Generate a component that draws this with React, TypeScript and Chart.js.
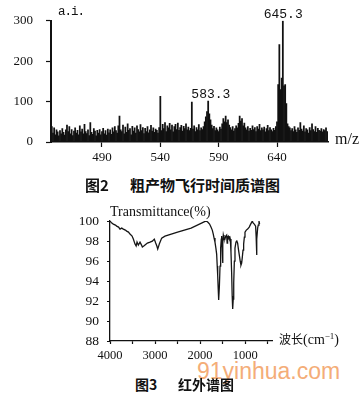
import React, { useEffect, useRef } from "react";
import { Chart, registerables } from "chart.js";
Chart.register(...registerables);

// ---------- Figure 2: TOF mass spectrum ----------
const massStart = 447; // first m/z of the intensity list (step 1)
const massIntensity = [
  38, 22, 35, 18, 30, 25, 15, 28, 20, 33,
  24, 17, 30, 42, 26, 38, 20, 31, 16, 27,
  35, 22, 29, 18, 40, 25, 32, 20, 44, 26,
  21, 30, 16, 48, 24, 19, 33, 27, 15, 29,
  22, 31, 18, 26, 34, 20, 28, 17, 32, 23,
  30, 19, 35, 25, 38, 28, 22, 40, 64, 30,
  26, 42, 20, 37, 24, 45, 29, 33, 18, 39,
  27, 35, 22, 40, 31, 25, 43, 28, 36, 21,
  34, 26, 38, 23, 30, 41, 27, 35, 24, 32,
  29, 22, 36, 113, 28, 44, 33, 48, 26, 40,
  35, 46, 30, 42, 25, 38, 44, 31, 47, 29,
  36, 41, 27, 39, 33, 45, 30, 37, 28, 34,
  99, 32, 40, 26, 36, 30, 43, 28, 35, 31,
  38, 50, 62, 75, 101, 70, 55, 42, 33, 39,
  28, 35, 30, 26, 37, 32, 45, 58, 50, 64,
  48, 55, 42, 36, 30, 38, 27, 33, 40, 35,
  46, 64, 52, 58, 40, 47, 35, 30, 38, 27,
  34, 29, 40, 31, 36, 26, 38, 32, 44, 28,
  35, 30, 37, 25, 33, 41, 28, 36, 30, 26,
  34, 29, 38, 50, 142, 241, 130, 158, 300, 139,
  142, 95, 45, 38, 35, 28, 33, 26, 38, 30,
  24, 35, 29, 48, 32, 27, 40, 25, 33, 30,
  22, 36, 28, 45, 31, 26, 38, 24, 34, 29,
  27, 33, 25, 31, 28, 35, 26,
];
const massXTicks = [490, 540, 590, 640];
const massYTicks = [0, 100, 200, 300];
const peakLabels = [
  { mz: 583.3, value: 101, text: "583.3" },
  { mz: 645.3, value: 300, text: "645.3" },
];

// ---------- Figure 3: IR spectrum ----------
const irWavenumber = [
  4000, 3960, 3926, 3880, 3852, 3810, 3778, 3740, 3704, 3660, 3630, 3590, 3556, 3510,
  3482, 3445, 3420, 3400, 3371, 3334, 3300, 3282, 3250, 3223, 3170, 3112, 3060, 3017,
  2986, 2960, 2941, 2920, 2906, 2853, 2780, 2500, 2200, 1900, 1860, 1832, 1790, 1759,
  1730, 1708, 1690, 1670, 1650, 1633, 1620, 1610, 1598, 1588, 1572, 1558, 1544, 1530,
  1522, 1512, 1502, 1492, 1485, 1470, 1450, 1430, 1411, 1400, 1390, 1375, 1360, 1340,
  1330, 1315, 1300, 1288, 1277, 1265, 1254, 1240, 1226, 1204, 1185, 1167, 1150, 1130,
  1110, 1093, 1078, 1063, 1048, 1034, 1018, 1004, 975, 945, 910, 878, 842, 820, 797,
  768, 757, 748, 738, 723, 710, 693, 680,
];
const irTransmittance = [
  100, 99.8, 99.7, 99.6, 99.5, 99.4, 99.2, 99.3, 99.2, 99.1, 99.0, 98.9, 98.7, 98.5,
  98.2, 97.7, 97.5, 97.9, 97.6, 97.9, 97.6, 97.4, 97.5, 97.6, 97.8, 97.9, 98.0, 98.2,
  97.8, 97.5, 97.2, 97.5, 97.7, 98.3, 98.5, 98.9, 99.3, 99.95, 100, 99.9, 99.7, 99.4,
  99.1, 98.7, 98.3, 97.9, 97.3, 96.7, 95.5, 94.6, 93.2, 92.1, 93.5, 95.5, 97.3, 98.2,
  98.5, 97.4, 95.8, 97.8, 98.6, 98.3, 98.2, 98.5, 98.6, 97.8, 98.4, 98.5, 98.3, 98.4,
  98.2, 96.9, 94.8, 92.5, 91.2, 92.2, 93.8, 96.0, 97.3, 97.9, 98.0, 97.8, 97.2, 96.6,
  96.0, 95.6, 95.8, 96.4, 97.1, 97.7, 98.4, 98.9, 99.1, 99.2, 99.4, 99.7, 100, 99.8, 99.7,
  99.5, 98.5, 96.6, 98.2, 99.3, 99.6, 100, 99.7,
];
const irXTicks = [4000, 3500, 3000, 2500, 2000, 1500, 1000, 500];
const irXLabels = [4000, 3000, 2000, 1000];
const irYTicks = [88, 90, 92, 94, 96, 98, 100];

const serif = '"Liberation Serif", "DejaVu Serif", serif';
const mono = '"Liberation Mono", "DejaVu Sans Mono", monospace';
const cjk = '"Noto Sans CJK SC", sans-serif';

const peakPlugin = {
  id: "peakLabels",
  afterDatasetsDraw(chart: any) {
    const { ctx, scales } = chart;
    ctx.save();
    ctx.font = `13px ${mono}`;
    ctx.fillStyle = "#111";
    ctx.textAlign = "center";
    ctx.textBaseline = "alphabetic";
    for (const p of peakLabels) {
      const x = scales.x.getPixelForValue(p.mz);
      const y = scales.y.getPixelForValue(p.value);
      ctx.fillText(p.text, x, y - 3);
    }
    ctx.restore();
  },
};

export default function App() {
  const massRef = useRef<HTMLCanvasElement>(null);
  const irRef = useRef<HTMLCanvasElement>(null);

  useEffect(() => {
    const axisGrid = (len: number) => ({
      display: true,
      offset: false,
      drawOnChartArea: false,
      drawTicks: true,
      tickLength: len,
      tickColor: "#111",
      tickWidth: 1.2,
    });

    const massChart = new Chart(massRef.current!, {
      type: "bar",
      data: {
        datasets: [
          {
            data: massIntensity.map((y, i) => ({ x: massStart + i, y })),
            backgroundColor: "#111",
            borderWidth: 0,
            barThickness: 1.1,
            grouped: false,
          } as any,
        ],
      },
      options: {
        animation: false,
        responsive: false,
        maintainAspectRatio: false,
        events: [],
        layout: { padding: { left: 0, top: 15, right: 34, bottom: 3 } },
        plugins: { legend: { display: false }, tooltip: { enabled: false } },
        scales: {
          x: {
            type: "linear",
            min: 446.3,
            max: 683.7,
            offset: false,
            grid: axisGrid(5),
            border: { display: true, color: "#111", width: 1.5 },
            ticks: {
              color: "#111",
              font: { family: serif, size: 13 },
              padding: 3,
              autoSkip: false,
              maxRotation: 0,
              callback: (v: any) => String(v),
            },
            afterBuildTicks: (s: any) => {
              s.ticks = massXTicks.map((value) => ({ value }));
            },
            afterFit: (s: any) => {
              s.height = 25;
            },
          },
          y: {
            min: 0,
            max: 300,
            grid: axisGrid(5),
            border: { display: true, color: "#111", width: 2 },
            ticks: {
              color: "#111",
              font: { family: serif, size: 13 },
              padding: 13,
              callback: (v: any) => String(v),
            },
            afterBuildTicks: (s: any) => {
              s.ticks = massYTicks.map((value) => ({ value }));
            },
            afterFit: (s: any) => {
              s.width = 51;
            },
          },
        },
      } as any,
      plugins: [peakPlugin],
    });

    const irChart = new Chart(irRef.current!, {
      type: "line",
      data: {
        datasets: [
          {
            data: irWavenumber.map((x, i) => ({ x, y: irTransmittance[i] })),
            borderColor: "#151515",
            borderWidth: 1.3,
            pointRadius: 0,
            tension: 0,
            fill: false,
          },
        ],
      },
      options: {
        animation: false,
        responsive: false,
        maintainAspectRatio: false,
        events: [],
        layout: { padding: { left: 0, top: 15.7, right: 89.8, bottom: 4 } },
        plugins: { legend: { display: false }, tooltip: { enabled: false } },
        scales: {
          x: {
            type: "linear",
            min: 400,
            max: 4000,
            reverse: true,
            grid: axisGrid(3),
            border: { display: true, color: "#111", width: 1.3 },
            ticks: {
              color: "#111",
              font: { family: serif, size: 12.5 },
              padding: 4,
              autoSkip: false,
              maxRotation: 0,
              callback: (v: any) => (irXLabels.includes(v) ? String(v) : ""),
            },
            afterBuildTicks: (s: any) => {
              s.ticks = irXTicks.map((value) => ({ value }));
            },
            afterFit: (s: any) => {
              s.height = 25;
            },
          },
          y: {
            min: 88,
            max: 100,
            grid: axisGrid(3),
            border: { display: true, color: "#111", width: 1.3 },
            ticks: {
              color: "#111",
              font: { family: serif, size: 13.5 },
              padding: 8,
              callback: (v: any) => String(v),
            },
            afterBuildTicks: (s: any) => {
              s.ticks = irYTicks.map((value) => ({ value }));
            },
            afterFit: (s: any) => {
              s.width = 110;
            },
          },
        },
      } as any,
    });

    return () => {
      massChart.destroy();
      irChart.destroy();
    };
  }, []);

  const abs = (left: number, top: number, extra: React.CSSProperties = {}): React.CSSProperties => ({
    position: "absolute",
    left,
    top,
    whiteSpace: "nowrap",
    color: "#111",
    ...extra,
  });

  return (
    <div style={{ position: "absolute", left: 0, top: 0, width: 362, height: 397, background: "#fff", overflow: "hidden" }}>
      <canvas ref={massRef} width={362} height={170} style={{ position: "absolute", left: 0, top: 0, width: 362, height: 170 }} />
      <div style={abs(58, 6, { font: `12.5px ${mono}`, lineHeight: "12px", letterSpacing: "-1px" })}>a.i.</div>
      <div style={abs(335, 131, { font: `16px ${serif}`, lineHeight: "16px" })}>m/z</div>

      <div style={abs(85, 176.7, { font: `700 15px ${cjk}`, lineHeight: "15px" })}>图2</div>
      <div style={abs(130, 176.7, { font: `700 15px ${cjk}`, lineHeight: "15px" })}>粗产物飞行时间质谱图</div>

      <div style={abs(197, 360, { font: `23px "Liberation Sans", Arial, sans-serif`, lineHeight: "23px", color: "#f4ad78" })}>91yinhua.com</div>

      <canvas ref={irRef} width={362} height={165} style={{ position: "absolute", left: 0, top: 205, width: 362, height: 165 }} />
      <div style={abs(110, 205, { font: `14px ${serif}`, lineHeight: "14px" })}>Transmittance(%)</div>
      <div style={abs(279, 330, { lineHeight: "14px" })}>
        <span style={{ font: `12px ${cjk}` }}>波长</span>
        <span style={{ font: `14px ${serif}` }}>(cm<sup style={{ fontSize: 9, verticalAlign: "5px", lineHeight: 0 }}>−1</sup>)</span>
      </div>

      <div style={abs(135, 377.2, { font: `700 14px ${cjk}`, lineHeight: "14px" })}>图3</div>
      <div style={abs(178, 377.2, { font: `700 14px ${cjk}`, lineHeight: "14px" })}>红外谱图</div>
    </div>
  );
}
